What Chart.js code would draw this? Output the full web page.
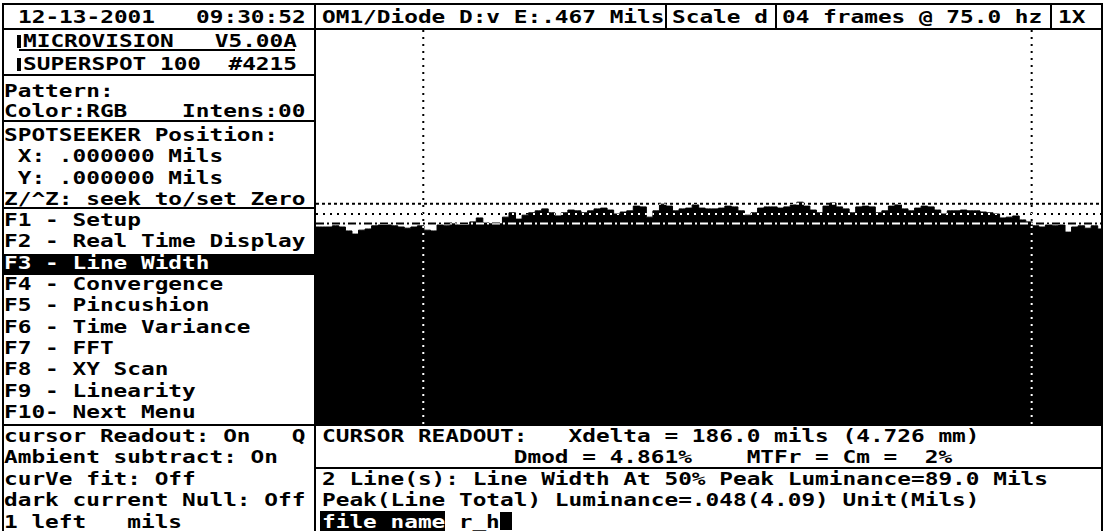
<!DOCTYPE html>
<html>
<head>
<meta charset="utf-8">
<script src="https://cdn.jsdelivr.net/npm/chart.js@4.4.1/dist/chart.umd.min.js"></script>
<style>
  body { margin: 0; background: #fff; }
  #screen { position: relative; width: 1104px; height: 531px; overflow: hidden; background: #fff; }
  .t {
    position: absolute; white-space: pre; color: #000;
    font: bold 18px "DejaVu Sans Mono", monospace; line-height: 20px;
    transform: scaleX(1.264); transform-origin: 0 0;
  }
  .inv { color: #fff; }
  .k { position: absolute; background: #000; }
  #plot { position: absolute; left: 316px; top: 30px; }
</style>
</head>
<body>
<div id="screen">
  <!-- frame lines -->
  <div class="k" style="left:2px;top:3px;width:1101px;height:2px"></div>
  <div class="k" style="left:2px;top:28px;width:1101px;height:2px"></div>
  <div class="k" style="left:2px;top:3px;width:2px;height:528px"></div>
  <div class="k" style="left:1101px;top:3px;width:2px;height:528px"></div>
  <div class="k" style="left:314px;top:3px;width:2px;height:528px"></div>
  <div class="k" style="left:665px;top:3px;width:2px;height:27px"></div>
  <div class="k" style="left:775px;top:3px;width:2px;height:27px"></div>
  <div class="k" style="left:1050px;top:3px;width:2px;height:27px"></div>
  <div class="k" style="left:19px;top:49px;width:276px;height:2px"></div>
  <div class="k" style="left:2px;top:74px;width:314px;height:2px"></div>
  <div class="k" style="left:2px;top:120px;width:314px;height:2px"></div>
  <div class="k" style="left:2px;top:207px;width:314px;height:2px"></div>
  <div class="k" style="left:2px;top:424px;width:1101px;height:2px"></div>
  <div class="k" style="left:316px;top:467px;width:787px;height:2px"></div>

  <!-- header row -->
  <div class="t" style="left:18px;top:7px">12-13-2001   09:30:52</div>
  <div class="t" style="left:322px;top:7px">OM1/Diode D:v E:.467 Mils</div>
  <div class="t" style="left:672px;top:7px">Scale d</div>
  <div class="t" style="left:782px;top:7px">04 frames @ 75.0 hz</div>
  <div class="t" style="left:1058px;top:7px">1X</div>

  <!-- left panel -->
  <div class="k" style="left:17px;top:35px;width:4px;height:13px"></div>
  <div class="t" style="left:23px;top:31px">MICROVISION   V5.00A</div>
  <div class="k" style="left:17px;top:58px;width:4px;height:13px"></div>
  <div class="t" style="left:23px;top:54px">SUPERSPOT 100  #4215</div>
  <div class="t" style="left:4px;top:81px">Pattern:</div>
  <div class="t" style="left:4px;top:101px">Color:RGB    Intens:00</div>
  <div class="t" style="left:4px;top:125px">SPOTSEEKER Position:</div>
  <div class="t" style="left:4px;top:146px"> X: .000000 Mils</div>
  <div class="t" style="left:4px;top:168px"> Y: .000000 Mils</div>
  <div class="t" style="left:4px;top:189px">Z/^Z: seek to/set Zero</div>

  <div class="t" style="left:4px;top:210px">F1 - Setup</div>
  <div class="t" style="left:4px;top:231px">F2 - Real Time Display</div>
  <div class="k" style="left:4px;top:254px;width:310px;height:21px"></div>
  <div class="t inv" style="left:4px;top:253px">F3 - Line Width</div>
  <div class="t" style="left:4px;top:274px">F4 - Convergence</div>
  <div class="t" style="left:4px;top:295px">F5 - Pincushion</div>
  <div class="t" style="left:4px;top:317px">F6 - Time Variance</div>
  <div class="t" style="left:4px;top:338px">F7 - FFT</div>
  <div class="t" style="left:4px;top:359px">F8 - XY Scan</div>
  <div class="t" style="left:4px;top:381px">F9 - Linearity</div>
  <div class="t" style="left:4px;top:402px">F10- Next Menu</div>

  <div class="t" style="left:4px;top:426px">cursor Readout: On   Q</div>
  <div class="t" style="left:4px;top:447px">Ambient subtract: On</div>
  <div class="t" style="left:4px;top:469px">curVe fit: Off</div>
  <div class="t" style="left:4px;top:490px">dark current Null: Off</div>
  <div class="t" style="left:4px;top:512px">1 left   mils</div>

  <!-- right bottom panel -->
  <div class="t" style="left:322px;top:426px">CURSOR READOUT:   Xdelta = 186.0 mils (4.726 mm)</div>
  <div class="t" style="left:322px;top:447px">              Dmod = 4.861%    MTFr = Cm =  2%</div>
  <div class="t" style="left:322px;top:469px">2 Line(s): Line Width At 50% Peak Luminance=89.0 Mils</div>
  <div class="t" style="left:322px;top:490px">Peak(Line Total) Luminance=.048(4.09) Unit(Mils)</div>
  <div class="k" style="left:320px;top:511px;width:125px;height:20px"></div>
  <div class="t inv" style="left:322px;top:512px">file name</div>
  <div class="t" style="left:445px;top:512px"> r_h</div>
  <div class="k" style="left:500px;top:512px;width:12px;height:18px"></div>

  <canvas id="plot" width="785" height="394"></canvas>
</div>

<script>
  // scan position of first sample and sample spacing, in mils
  const scanStart = 0;
  const scanStep = 2;
  const scanEnd = 240;

  // relative luminance (% of full scale) across the scan
  const luminance = [
    50.0, 50.0, 50.0, 50.3, 50.0, 49.0, 48.2, 49.2, 49.5, 50.3,
    50.5, 50.5, 50.3, 50.0, 49.7, 50.0, 50.3, 49.2, 49.0, 50.5,
    50.3, 50.8, 50.5, 50.5, 51.3, 52.3, 51.0, 50.8, 50.8, 52.5,
    53.6, 52.0, 53.0, 53.6, 54.1, 54.6, 53.6, 52.8, 53.6, 54.3,
    54.1, 53.6, 54.1, 54.6, 54.8, 54.3, 53.3, 53.8, 54.1, 55.3,
    55.1, 52.5, 54.1, 55.8, 55.3, 54.1, 54.6, 54.8, 55.6, 54.8,
    54.6, 54.6, 54.8, 55.3, 55.1, 54.1, 53.0, 53.6, 54.8, 55.1,
    55.1, 54.8, 55.1, 55.6, 56.3, 55.3, 54.3, 53.6, 55.3, 56.1,
    55.1, 54.6, 53.6, 55.1, 55.3, 55.1, 53.6, 54.1, 55.3, 55.6,
    54.6, 54.1, 54.8, 55.3, 55.1, 54.3, 53.3, 54.1, 54.1, 54.3,
    54.1, 54.1, 53.8, 53.6, 53.3, 52.3, 52.5, 52.8, 51.8, 51.3,
    50.3, 50.0, 50.5, 50.3, 50.5, 48.7, 50.0, 50.3, 49.7, 50.3,
    49.5,
  ];

  // horizontal markers (% of full scale)
  const peakLevel = 55.9;
  const midLevel = 53.3;
  const halfLevel = 50.9;

  // cursor positions, mils
  const cursorLeft = 32.8;
  const cursorRight = 218.8;

  const profile = luminance.map((v, i) => ({ x: scanStart + i * scanStep, y: v }));

  function level(y) {
    return [{ x: scanStart, y: y }, { x: scanEnd, y: y }];
  }
  function cursor(x) {
    return [{ x: x, y: 0 }, { x: x, y: 100 }];
  }

  // markers are drawn XOR style: white on black, black on white
  const xorLines = {
    id: "xorLines",
    beforeDraw(chart) {
      const c = chart.ctx;
      c.save();
      c.fillStyle = "#fff";
      c.fillRect(0, 0, chart.width, chart.height);
      c.restore();
    },
    beforeDatasetDraw(chart, args) {
      if (chart.data.datasets[args.index].xor) {
        chart.ctx.globalCompositeOperation = "difference";
      }
    },
    afterDatasetDraw(chart) {
      chart.ctx.globalCompositeOperation = "source-over";
    },
  };

  const marker = (data, dash) => ({
    data: data,
    xor: true,
    borderColor: "#fff",
    borderWidth: 2,
    borderDash: dash,
    pointRadius: 0,
    fill: false,
    order: 0,
  });

  const ctx = document.getElementById("plot");

  var plot = new Chart(ctx, {
    type: "line",
    data: {
      datasets: [
        {
          label: "Luminance",
          data: profile,
          borderColor: "#000",
          backgroundColor: "#000",
          borderWidth: 1,
          pointRadius: 0,
          stepped: "middle",
          fill: "origin",
          order: 10,
        },
        marker(level(peakLevel), [3, 3]),
        marker(level(midLevel), [2, 5]),
        marker(level(halfLevel), [8, 3, 2, 3]),
        marker(cursor(cursorLeft), [2, 5]),
        marker(cursor(cursorRight), [2, 5]),
      ],
    },
    options: {
      responsive: false,
      animation: false,
      devicePixelRatio: 1,
      layout: { padding: 0 },
      plugins: {
        legend: { display: false },
        tooltip: { enabled: false },
      },
      scales: {
        x: { type: "linear", min: scanStart, max: scanEnd, display: false },
        y: { min: 0, max: 100, display: false },
      },
    },
    plugins: [xorLines],
  });
</script>
</body>
</html>
